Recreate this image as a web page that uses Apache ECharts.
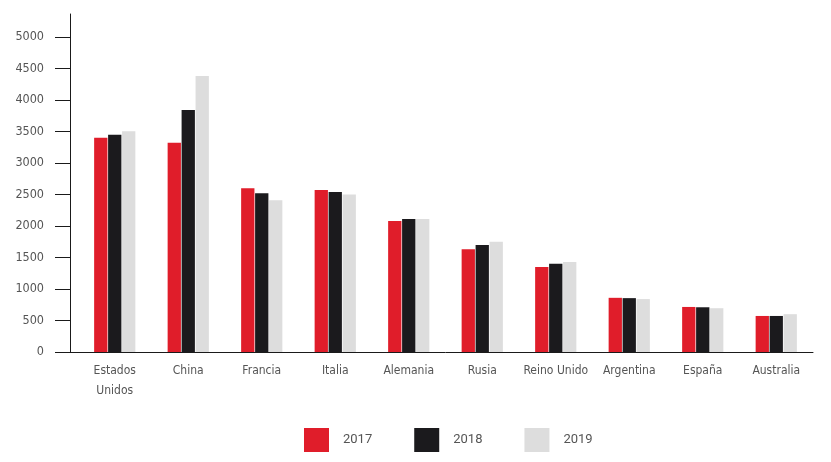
<!DOCTYPE html>
<html>
<head>
<meta charset="utf-8">
<script src="https://cdn.jsdelivr.net/npm/echarts@6/dist/echarts.min.js"></script>
<style>
html,body{margin:0;padding:0;background:#fff;}
#c{width:831px;height:462px;}
</style>
</head>
<body>
<div id="c"></div>
<script>
const categories = ['Estados\nUnidos','China','Francia','Italia','Alemania','Rusia','Reino Unido','Argentina','España','Australia'];
const years = ['2017','2018','2019'];
const v2017 = [3400,3320,2600,2570,2080,1630,1350,860,715,572];
const v2018 = [3450,3840,2520,2540,2110,1700,1400,855,710,572];
const v2019 = [3505,4380,2410,2500,2110,1750,1430,840,695,600];
const yTicks = [0,500,1000,1500,2000,2500,3000,3500,4000,4500,5000];

const colors = ['#e01d2a','#1b1a1d','#dddddd'];
const narrow = '"DejaVu Sans Condensed","Liberation Sans Narrow",sans-serif';
const chart = echarts.init(document.getElementById('c'), null, {renderer:'canvas'});
const GL = 78, YOFF = 8;
const option = {
  animation:false,
  color: colors,
  grid:{left:GL,right:18,top:14,bottom:110,containLabel:false},
  legend:{
    left:299, top:423,
    itemWidth:25, itemHeight:24, itemGap:42,
    icon:'rect',
    textStyle:{fontFamily:'Roboto, sans-serif', fontSize:13, color:'#555', padding:[0,0,0,9]},
    data: years
  },
  xAxis:{
    type:'category', data:categories,
    axisLine:{lineStyle:{color:'#1a1a1a',width:1}},
    axisTick:{show:false},
    axisLabel:{fontFamily:narrow, fontSize:12, color:'#555', margin:9, lineHeight:20, interval:0}
  },
  yAxis:{
    type:'value', min:0, max:5365, offset:YOFF,
    axisLine:{show:true,lineStyle:{color:'#1a1a1a',width:1}},
    axisTick:{show:true,length:15,lineStyle:{color:'#1a1a1a'},customValues:yTicks},
    axisLabel:{fontFamily:narrow, fontSize:12.5, color:'#555', margin:26, customValues:yTicks, formatter:function(v){return String(v);}},
    splitLine:{show:false}
  },
  series:[
    {name:years[0],type:'bar',data:v2017,barWidth:13.3,barGap:'5%'},
    {name:years[1],type:'bar',data:v2018,barWidth:13.3,barGap:'5%'},
    {name:years[2],type:'bar',data:v2019,barWidth:13.3,barGap:'5%'}
  ]
};
chart.setOption(option);
const y0 = chart.convertToPixel({yAxisIndex:0}, 0);
const yc = Math.round(y0) + 0.5;
chart.setOption({graphic:[{type:'line',shape:{x1:GL-YOFF,y1:yc,x2:GL+0.5,y2:yc},style:{stroke:'#1a1a1a',lineWidth:1},silent:true}]});
</script>
</body>
</html>
